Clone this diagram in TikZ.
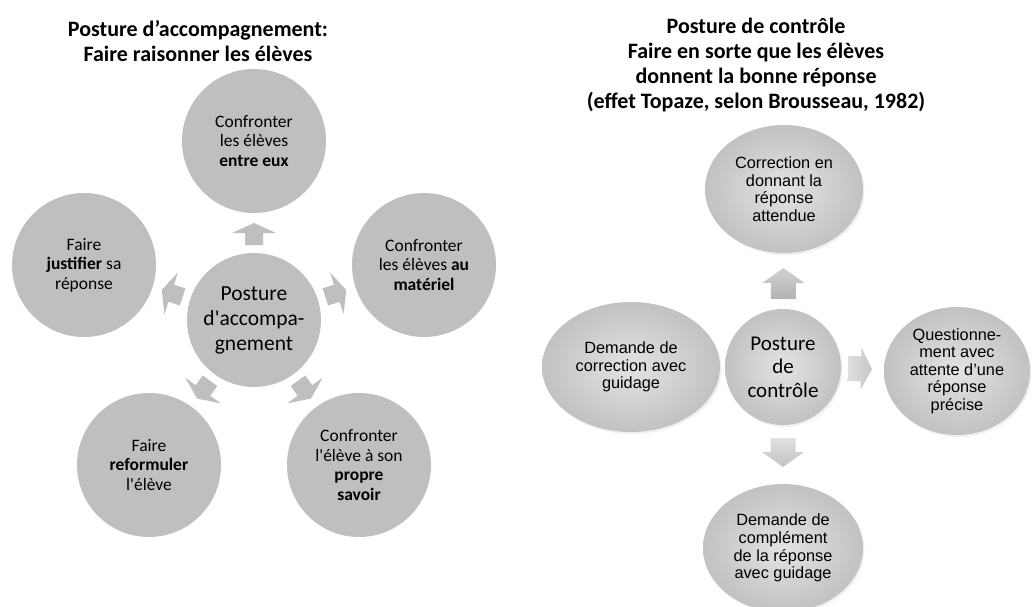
\documentclass[tikz,border=0pt]{standalone}
\usepackage{fontspec}
\setmainfont{Carlito}[Ligatures=TeXOff]
\newfontfamily\arialf{Liberation Sans}[Ligatures=TeXOff]
\usetikzlibrary{shapes.geometric,calc,shadows}
\newcommand\blockarrow[8]{%
  \path ($(#2)!#4!(#3)$) coordinate (ba0) ($(#2)!#5!(#3)$) coordinate (ba1) ($(#2)!#6!(#3)$) coordinate (ba2);
  \path[#1] ($(ba0)!#7!90:(#3)$) -- ($(ba1)!#7!90:(#3)$) -- ($(ba1)!#8!90:(#3)$) -- (ba2) -- ($(ba1)!#8!-90:(#3)$) -- ($(ba1)!#7!-90:(#3)$) -- ($(ba0)!#7!-90:(#3)$) -- cycle;
}
\begin{document}
\begin{tikzpicture}[x=1pt,y=-1pt,
  bub/.style={circle,fill=black!25,minimum size=144pt,inner sep=0pt,align=center,font=\fontsize{17.5}{19.5}\selectfont},
  hub/.style={bub,minimum size=134pt,font=\fontsize{21.5}{25}\selectfont},
  ttl/.style={align=center,font=\fontsize{22}{25}\selectfont\bfseries},
  ell/.style={ellipse,inner sep=0pt,align=center,shading=radial,inner color=black!11,outer color=black!24,
    drop shadow={opacity=0.12,shadow xshift=1.5pt,shadow yshift=-2pt},font=\arialf\fontsize{16.3}{17.6}\selectfont},
  ctr/.style={ell,circle,minimum size=116pt,font=\fontsize{21}{23.5}\selectfont},
  flatarrow/.style={fill=black!25},
  uparrow/.style={top color=black!18,bottom color=black!30},
  downarrow/.style={top color=black!12,bottom color=black!24},
  rightarrow/.style={left color=black!13,right color=black!22}
]
\useasboundingbox (0,0) rectangle (1032,606);

% ---------- left diagram ----------
\node[ttl] (t1) at (198,41) {Posture d’accompagnement:\\Faire raisonner les élèves};
\node[hub] (c1) at (254,320) {Posture\\d'accompa-\\gnement};
\node[bub] (n1) at (254,141) {Confronter\\les élèves\\\textbf{entre eux}};
\node[bub] (n2) at (424,265) {Confronter\\les élèves \textbf{au}\\\textbf{matériel}};
\node[bub] (n3) at (359,465) {Confronter\\l'élève à son\\\textbf{propre}\\\textbf{savoir}};
\node[bub] (n4) at (149,465) {Faire\\\textbf{reformuler}\\l'élève};
\node[bub] (n5) at (84,265) {Faire\\\textbf{justifier} sa\\réponse};
\blockarrow{flatarrow}{c1}{n1}{75pt}{87pt}{97pt}{9pt}{22pt}
\blockarrow{flatarrow}{c1}{n2}{75pt}{87pt}{97pt}{9pt}{22pt}
\blockarrow{flatarrow}{c1}{n3}{75pt}{87pt}{97pt}{9pt}{22pt}
\blockarrow{flatarrow}{c1}{n4}{75pt}{87pt}{97pt}{9pt}{22pt}
\blockarrow{flatarrow}{c1}{n5}{75pt}{87pt}{97pt}{9pt}{22pt}

% ---------- right diagram ----------
\node[ttl] (t2) at (756,65) {Posture de contrôle\\Faire en sorte que les élèves\\donnent la bonne réponse\\(effet Topaze, selon Brousseau, 1982)};
\node[ctr] (c2) at (783,367) {Posture\\de\\contrôle};
\node[ell,minimum width=158pt,minimum height=128pt] (m1) at (784,189) {Correction en\\donnant la\\réponse\\attendue};
\node[ell,minimum width=146pt,minimum height=128pt] (m2) at (957,371) {Questionne-\\ment avec\\attente d’une\\réponse\\précise};
\node[ell,minimum width=178pt,minimum height=130pt] (m3) at (631,367) {Demande de\\correction avec\\guidage};
\node[ell,minimum width=160pt,minimum height=128pt] (m4) at (783,548) {Demande de\\complément\\de la réponse\\avec guidage};
\blockarrow{uparrow}{c2}{m1}{68pt}{84pt}{99pt}{12.5pt}{21pt}
\blockarrow{rightarrow}{c2}{m2}{65pt}{78pt}{89pt}{12.5pt}{21pt}
\blockarrow{downarrow}{c2}{m4}{71pt}{85pt}{100pt}{12.5pt}{21pt}
\end{tikzpicture}
\end{document}
